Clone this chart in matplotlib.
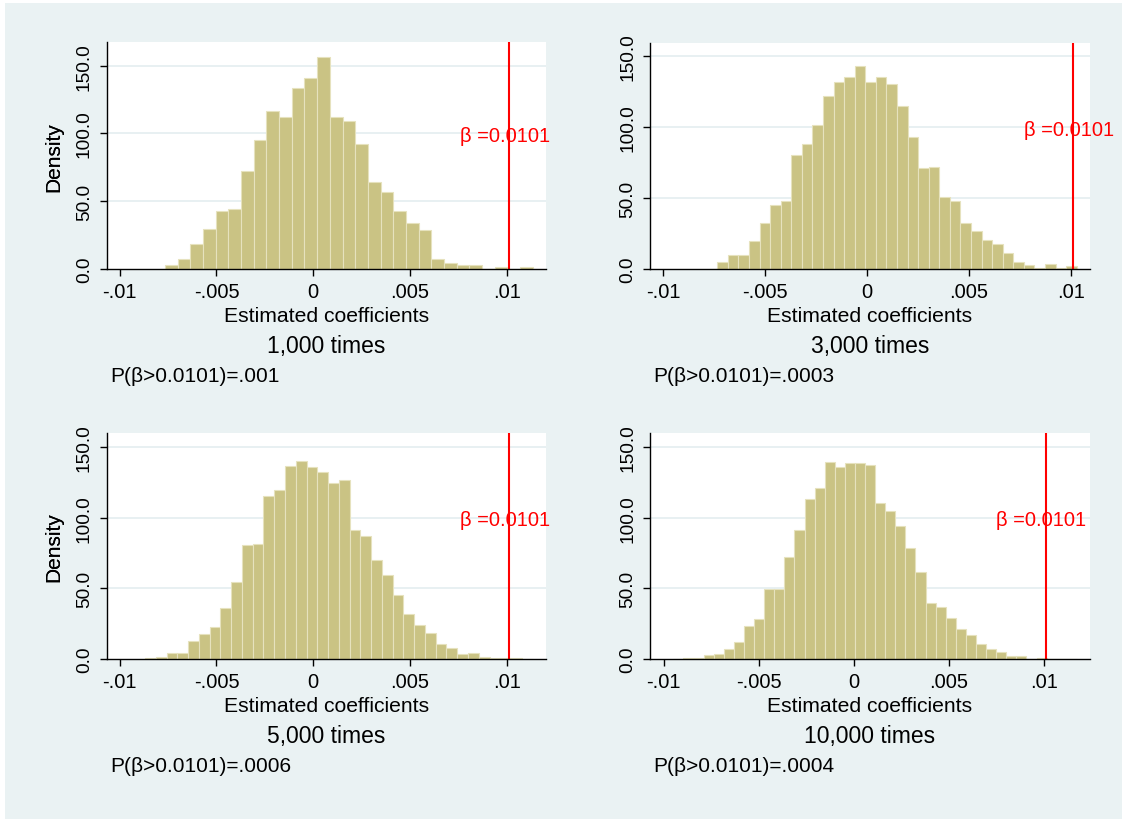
import matplotlib
matplotlib.use('Agg')
import matplotlib.pyplot as plt
from matplotlib.patches import Rectangle

plt.rcParams['font.family'] = ['Liberation Sans', 'DejaVu Sans']

# ---------------- data ----------------
BETA = 0.0101
beta_label = "β =0.0101"

titles = ["1,000 times", "3,000 times", "5,000 times", "10,000 times"]
p_texts = ["P(β>0.0101)=.001", "P(β>0.0101)=.0003",
           "P(β>0.0101)=.0006", "P(β>0.0101)=.0004"]

x_ticks = [-0.01, -0.005, 0, 0.005, 0.01]
x_tick_labels = ["-.01", "-.005", "0", ".005", ".01"]
y_ticks = [0, 50, 100, 150]
y_tick_labels = ["0.0", "50.0", "100.0", "150.0"]

bin_start_1000 = -0.00766
bin_width_1000 = 0.000655
density_1000 = [2.9, 7.6, 18.1, 29.2, 43.1, 44.4, 72.1, 95.3, 116.7, 112.0,
                133.3, 141.2, 156.6, 112.0, 109.3, 92.2, 64.5, 56.9, 42.9, 33.8,
                28.9, 7.6, 4.7, 2.9, 2.9, 0.0, 1.5, 0.0, 1.5]

bin_start_3000 = -0.00735
bin_width_3000 = 0.000519
density_3000 = [4.7, 9.6, 9.6, 19.8, 32.7, 45.4, 47.7, 80.2, 87.9, 101.3,
                121.8, 131.9, 135.2, 143.0, 131.9, 135.7, 130.5, 115.0, 93.1, 71.2,
                71.9, 50.6, 47.7, 32.7, 26.6, 20.7, 17.6, 11.3, 4.7, 2.8,
                0.7, 3.3, 0.9, 2.1]

bin_start_5000 = -0.00869
bin_width_5000 = 0.000556
density_5000 = [0.7, 1.4, 3.9, 4.5, 12.6, 17.7, 22.8, 36.1, 54.2, 80.4,
                81.1, 115.6, 119.3, 136.3, 139.9, 135.8, 132.1, 124.3, 126.7, 91.5,
                87.0, 69.8, 59.7, 45.5, 31.8, 24.3, 18.6, 10.5, 7.5, 3.4,
                4.1, 1.3, 0.7, 0.7, 0.5, 0.3]

bin_start_10000 = -0.00949
bin_width_10000 = 0.000531
density_10000 = [0.2, 0.5, 1.0, 2.5, 3.3, 7.2, 11.8, 23.4, 28.0, 49.8,
                 49.5, 71.9, 91.5, 113.2, 120.8, 139.6, 135.6, 138.9, 138.9, 137.0,
                 110.4, 105.0, 94.1, 78.3, 61.3, 39.6, 36.8, 29.2, 21.0, 17.3,
                 10.6, 7.1, 4.7, 2.0, 2.2, 0.2, 0.4, 0.2, 0.1, 0.2]

panels = [
    (bin_start_1000, bin_width_1000, density_1000),
    (bin_start_3000, bin_width_3000, density_3000),
    (bin_start_5000, bin_width_5000, density_5000),
    (bin_start_10000, bin_width_10000, density_10000),
]

# ---------------- layout (pixels) ----------------
W, H = 1122, 820
DPI = 100
# left, top, right, bottom in pixels
boxes = [(106.7, 43.3, 546, 270), (650, 44, 1090, 270),
         (106.7, 434, 546, 660), (650, 434, 1090, 660)]
xlims = [(-0.01067, 0.01202), (-0.01065, 0.01095),
         (-0.01067, 0.01202), (-0.01072, 0.01244)]
ylims = [(0, 167.3), (0, 159.4), (0, 159.9), (0, 159.9)]

BG = '#EAF2F3'
BAR = '#CAC384'
BAR_EDGE = '#E6E2BE'
GRID = '#E6EFF1'

fig = plt.figure(figsize=(W / DPI, H / DPI), dpi=DPI, facecolor='white')
fig.patches.append(Rectangle((5 / W, 0), 1 - 5 / W, 1 - 4 / H,
                             transform=fig.transFigure, facecolor=BG,
                             edgecolor='none', zorder=-10))


def fx(px):
    return px / W


def fy(py):
    return 1 - py / H


for i, ((start, width, dens), (l, t, r, b)) in enumerate(zip(panels, boxes)):
    ax = fig.add_axes([fx(l), fy(b), fx(r) - fx(l), fy(t) - fy(b)])
    ax.set_facecolor('white')
    lefts = [start + k * width for k in range(len(dens))]
    ax.bar(lefts, dens, width=width, align='edge', color=BAR,
           edgecolor=BAR_EDGE, linewidth=0.8, zorder=2)
    ax.axvline(BETA, color='#FF0000', lw=1.5, zorder=3)
    ax.annotate(beta_label, xy=(BETA, 100), xytext=(-4, -7.5),
                textcoords='offset pixels', ha='center', va='baseline',
                color='#FF0000', fontsize=14.5, zorder=4, annotation_clip=False)
    ax.set_xlim(*xlims[i])
    ax.set_ylim(*ylims[i])
    ax.set_xticks(x_ticks)
    ax.set_xticklabels(x_tick_labels)
    ax.set_yticks(y_ticks)
    ax.set_yticklabels(y_tick_labels, rotation=90, va='center')
    for yv in y_ticks[1:]:
        ax.axhline(yv, color=GRID, lw=1.3, zorder=1)
    for s in ['top', 'right']:
        ax.spines[s].set_visible(False)
    for s in ['left', 'bottom']:
        ax.spines[s].set_linewidth(1.0)
        ax.spines[s].set_color('black')
        ax.spines[s].set_zorder(5)
    ax.tick_params(axis='both', direction='out', length=5, width=1.0,
                   colors='black')
    ax.tick_params(axis='x', pad=4, labelsize=14.5)
    ax.tick_params(axis='y', pad=5, labelsize=13.8)
    ax.set_ylabel('Density', fontsize=15)
    ax.yaxis.set_label_coords((63.5 - l) / (r - l), 0.5)

    cx = (l + r) / 2
    fig.text(fx(cx), fy(b + 52), 'Estimated coefficients', ha='center',
             va='baseline', fontsize=15.2)
    fig.text(fx(cx), fy(b + 82.7), titles[i], ha='center', va='baseline',
             fontsize=16.5)
    fig.text(fx(l + 3.5), fy(b + 111.7), p_texts[i], ha='left', va='baseline',
             fontsize=15)

fig.savefig('out.png', dpi=DPI, facecolor=fig.get_facecolor())
